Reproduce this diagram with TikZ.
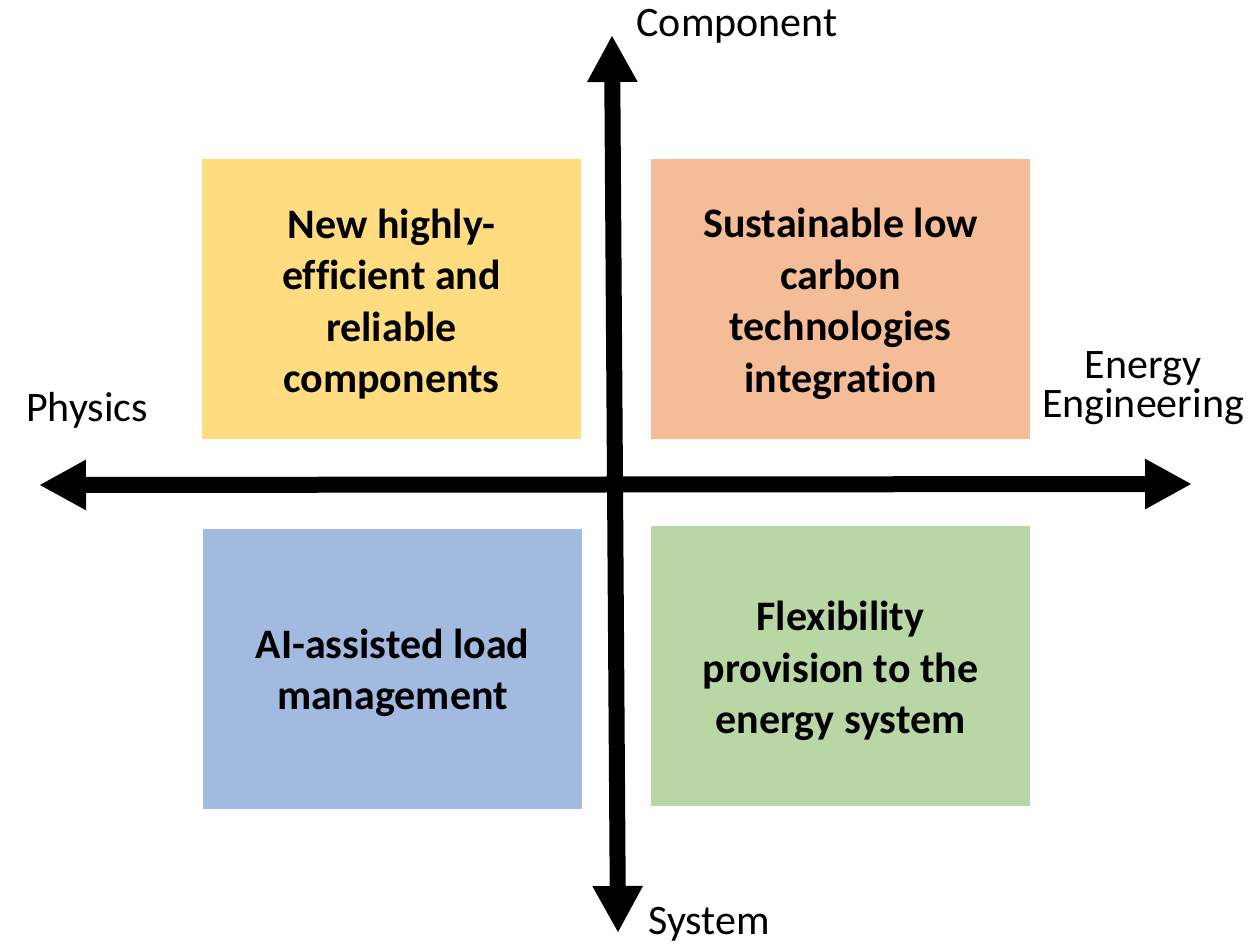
\documentclass[tikz,border=0pt]{standalone}
\usepackage{fontspec}
\setmainfont{Carlito}[Ligatures=NoCommon]
\usetikzlibrary{arrows.meta}

\definecolor{quadYellow}{HTML}{FFDC7F}
\definecolor{quadOrange}{HTML}{F5BC98}
\definecolor{quadBlue}{HTML}{A2B9E0}
\definecolor{quadGreen}{HTML}{B9D6A5}

\tikzset{
  quadbox/.style={rectangle, draw=none, inner sep=0pt,
    minimum width=379pt, minimum height=280pt},
  quadtext/.style={inner sep=0pt, align=center,
    font=\fontsize{42}{51.5}\selectfont\bfseries},
  axislabel/.style={inner sep=0pt, align=center,
    font=\fontsize{42}{39}\selectfont},
  axisline/.style={line width=16pt,
    {Triangle[length=47pt,width=47pt]}-{Triangle[length=47pt,width=47pt]}},
}

\begin{document}
\begin{tikzpicture}[x=1pt,y=1pt]
  \useasboundingbox (0,0) rectangle (1252,944);

  % quadrant boxes
  \node[quadbox, fill=quadYellow] (tl) at (391.5,645) {};
  \node[quadbox, fill=quadOrange] (tr) at (840.5,645) {};
  \node[quadbox, fill=quadBlue]   (bl) at (392.5,275) {};
  \node[quadbox, fill=quadGreen]  (br) at (840.5,278) {};

  % quadrant texts
  \node[quadtext] (tlt) at ([yshift=-5pt]tl.center)
    {New highly-\\efficient and\\reliable\\components};
  \node[quadtext] (trt) at ([yshift=-5pt]tr.center)
    {Sustainable low\\carbon\\technologies\\integration};
  \node[quadtext] (blt) at ([yshift=-4pt]bl.center)
    {AI-assisted load\\management};
  \node[quadtext] (brt) at ([yshift=-5pt]br.center)
    {Flexibility\\provision to the\\energy system};

  % axis ends
  \coordinate (west) at (39,459);
  \coordinate (east) at (1192,460);
  \coordinate (north) at (612,909);
  \coordinate (south) at (618,11);

  % axes
  \draw[axisline] (west) -- (east);
  \draw[axisline] (south) -- (north);

  % axis labels
  \node[axislabel, anchor=base] (comp) at (737,907) {Component};
  \node[axislabel, anchor=base] (sys) at (709,9) {System};
  \node[axislabel, anchor=base] (phys) at (87,522) {Physics};
  \node[axislabel] (eng) at (1143,556) {Energy\\Engineering};
\end{tikzpicture}
\end{document}
